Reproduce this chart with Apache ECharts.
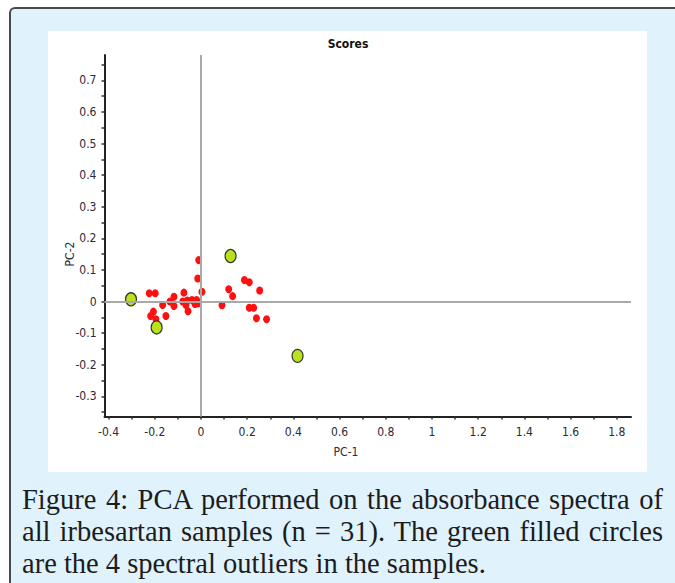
<!DOCTYPE html>
<html>
<head>
<meta charset="utf-8">
<script src="https://cdn.jsdelivr.net/npm/echarts@6/dist/echarts.min.js"></script>
<style>
  html, body { margin:0; padding:0; }
  body { width:675px; height:583px; overflow:hidden; position:relative; background:#ffffff; }
  #frame { position:absolute; left:9px; top:7px; width:720px; height:620px; background:#e0f2fc;
           border-left:2px solid #4a4a4a; border-top:2px solid #4a4a4a; border-top-left-radius:6px; box-sizing:border-box; }
  #panel { position:absolute; left:48px; top:31px; width:599px; height:441px; background:#ffffff; }
  #chart { position:absolute; left:0; top:0; width:675px; height:583px; }
  #caption { position:absolute; left:22px; top:484px; width:641px; font-family:'Liberation Serif','Times New Roman',serif;
             font-size:28.5px; line-height:32px; color:#1c1c1c; }
  #caption .j { text-align:justify; text-align-last:justify; }
  #caption .l { text-align:left; }
</style>
</head>
<body>
<div id="frame"></div>
<div id="panel"></div>
<div id="chart"></div>
<div id="caption">
  <div class="j">Figure 4: PCA performed on the absorbance spectra of</div>
  <div class="j">all irbesartan samples (n = 31). The green filled circles</div>
  <div class="l">are the 4 spectral outliers in the samples.</div>
</div>
<script>
// ---- data ----
const redX = [-0.224, -0.198, -0.166, -0.218, -0.206, -0.195, -0.152, -0.134, -0.117, -0.117,
              -0.074, -0.079, -0.059, -0.065, -0.056, -0.039, -0.019, -0.012, -0.026, 0.004,
              -0.014, -0.010, 0.091, 0.120, 0.137, 0.188, 0.209, 0.254, 0.209, 0.228, 0.240, 0.284];
const redY = [0.026, 0.026, -0.011, -0.046, -0.032, -0.056, -0.046, 0.000, 0.015, -0.014,
              0.028, 0.000, 0.003, -0.011, -0.031, 0.005, 0.005, -0.006, -0.008, 0.031,
              0.073, 0.131, -0.012, 0.039, 0.017, 0.068, 0.061, 0.035, -0.020, -0.020, -0.053, -0.056];
const greenX = [-0.303, -0.192, 0.128, 0.418];
const greenY = [0.007, -0.082, 0.144, -0.172];

const xTickLabels = [-0.4, -0.2, 0, 0.2, 0.4, 0.6, 0.8, 1, 1.2, 1.4, 1.6, 1.8];
const xTicks = [-0.4, -0.3, -0.2, -0.1, 0, 0.1, 0.2, 0.3, 0.4, 0.5, 0.6, 0.7, 0.8, 0.9, 1, 1.1, 1.2, 1.3, 1.4, 1.5, 1.6, 1.7, 1.8];
const yTickLabels = [-0.3, -0.2, -0.1, 0, 0.1, 0.2, 0.3, 0.4, 0.5, 0.6, 0.7];
const yTicks = [-0.35, -0.3, -0.25, -0.2, -0.15, -0.1, -0.05, 0, 0.05, 0.1, 0.15, 0.2, 0.25, 0.3, 0.35, 0.4, 0.45, 0.5, 0.55, 0.6, 0.65, 0.7, 0.75];

const titleText = 'Scores';
const xName = 'PC-1';
const yName = 'PC-2';

// ---- chart ----
const narrow = "'Liberation Sans Narrow','Arial Narrow','DejaVu Sans Condensed',sans-serif";
const fmt = v => String(Math.round(v * 100) / 100);
const chart = echarts.init(document.getElementById('chart'), null, { renderer: 'svg' });

const axisCommon = {
  type: 'value',
  splitLine: { show: false },
  axisLine: { show: true, onZero: false, lineStyle: { color: '#222', width: 2 } },
};

chart.setOption({
  animation: false,
  backgroundColor: 'transparent',
  grid: { left: 104.5, top: 55, width: 526.5, height: 361.5 },
  xAxis: Object.assign({}, axisCommon, {
    min: -0.4177, max: 1.8615,
    axisTick: { show: true, length: 3, customValues: xTicks, lineStyle: { color: '#333', width: 1.5 } },
    axisLabel: { customValues: xTickLabels, formatter: fmt, margin: 9, fontSize: 12,
                 fontFamily: narrow, color: '#2a2a3a' }
  }),
  yAxis: Object.assign({}, axisCommon, {
    min: -0.3639, max: 0.7801,
    axisTick: { show: true, length: 3, customValues: yTicks, lineStyle: { color: '#333', width: 1.5 } },
    axisLabel: { customValues: yTickLabels, formatter: fmt, margin: 8, fontSize: 12,
                 fontFamily: narrow, color: '#2a2a3a' }
  }),
  graphic: [
    { type: 'text', x: 348, y: 44, style: { text: titleText, textAlign: 'center', textVerticalAlign: 'middle',
      font: "bold 12px " + narrow, fill: '#111' } },
    { type: 'text', x: 346, y: 452, style: { text: xName, textAlign: 'center', textVerticalAlign: 'middle',
      font: "12px " + narrow, fill: '#2a2a3a' } },
    { type: 'text', x: 70, y: 254, rotation: Math.PI / 2, style: { text: yName, textAlign: 'center', textVerticalAlign: 'middle',
      font: "12px " + narrow, fill: '#2a2a3a' } }
  ],
  series: [
    {
      type: 'scatter',
      data: redX.map((x, i) => [x, redY[i]]),
      symbol: 'circle',
      symbolSize: [7, 8],
      itemStyle: { color: '#ff1010', opacity: 1 },
      silent: true,
      markLine: {
        silent: true,
        symbol: ['none', 'none'],
        label: { show: false },
        lineStyle: { color: '#a9a9a9', width: 2, type: 'solid' },
        data: [{ xAxis: 0 }, { yAxis: 0 }]
      },
      z: 3
    },
    {
      type: 'scatter',
      data: greenX.map((x, i) => [x, greenY[i]]),
      symbol: 'circle',
      symbolSize: [11, 13],
      itemStyle: { color: '#b9e21c', borderColor: '#333', borderWidth: 1.2, opacity: 1 },
      silent: true,
      z: 4
    }
  ]
});
</script>
</body>
</html>
